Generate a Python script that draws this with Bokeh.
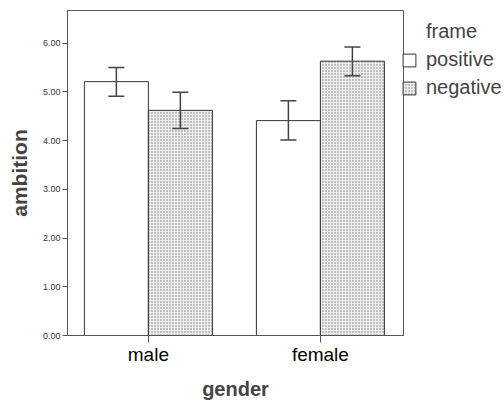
from bokeh.plotting import figure
from bokeh.models import (ColumnDataSource, Range1d, FixedTicker, Whisker, TeeHead,
                          Legend, LegendItem)
from bokeh.transform import dodge
from bokeh.embed import file_html
from bokeh.resources import INLINE

# ---- data ----
genders = ["male", "female"]
frames = ["positive", "negative"]
legend_title = "frame"
positive_mean = [5.21, 4.41]
positive_lo = [4.91, 4.01]
positive_hi = [5.50, 4.82]
negative_mean = [4.62, 5.63]
negative_lo = [4.25, 5.33]
negative_hi = [4.99, 5.92]
y_ticks = [0, 1, 2, 3, 4, 5, 6]

FONT = "Liberation Sans"
BW = 0.372
OFF = BW / 2

xs = list(range(len(genders)))
src_pos = ColumnDataSource(dict(x=xs, top=positive_mean, lo=positive_lo, hi=positive_hi))
src_neg = ColumnDataSource(dict(x=xs, top=negative_mean, lo=negative_lo, hi=negative_hi))

p = figure(frame_width=336, frame_height=325, output_backend="svg", toolbar_location=None,
           x_range=Range1d(-0.47, len(genders) - 1 + 0.483), y_range=Range1d(0, 6.67),
           min_border_left=67, min_border_top=10, min_border_bottom=68, min_border_right=0)

r_pos = p.vbar(x=dodge("x", -OFF), top="top", width=BW, bottom=0, source=src_pos,
               fill_color="white", line_color="#333333", line_width=1)
r_neg = p.vbar(x=dodge("x", OFF), top="top", width=BW, bottom=0, source=src_neg,
               fill_color="#eeeeee", line_color="#333333", line_width=1,
               hatch_pattern="dot", hatch_scale=3, hatch_weight=1, hatch_color="#7a7a7a")
# invisible renderer used only to place the legend title row
r_title = p.scatter(x=[], y=[], fill_alpha=0, line_alpha=0)

for src, off in ((src_pos, -OFF), (src_neg, OFF)):
    w = Whisker(base=dodge("x", off), upper="hi", lower="lo", source=src, level="overlay",
                line_color="#444444", line_width=1.5,
                upper_head=TeeHead(size=16, line_color="#444444", line_width=1.5),
                lower_head=TeeHead(size=16, line_color="#444444", line_width=1.5))
    p.add_layout(w)

p.xgrid.visible = False
p.ygrid.visible = False
p.outline_line_color = "#555555"
p.outline_line_width = 1
p.background_fill_color = "white"
p.border_fill_color = "white"

# x axis
p.xaxis.ticker = FixedTicker(ticks=xs)
p.xaxis.major_label_overrides = {i: g for i, g in enumerate(genders)}
p.xaxis.minor_tick_line_color = None
p.xaxis.major_tick_in = 0
p.xaxis.major_tick_out = 7
p.xaxis.axis_line_color = "#555555"
p.xaxis.major_tick_line_color = "#555555"
p.xaxis.major_label_text_font = FONT
p.xaxis.major_label_text_font_size = "19px"
p.xaxis.major_label_text_color = "black"
p.xaxis.major_label_standoff = 1
p.xaxis.axis_label = "gender"
p.xaxis.axis_label_text_font = FONT
p.xaxis.axis_label_text_font_size = "20px"
p.xaxis.axis_label_text_font_style = "bold"
p.xaxis.axis_label_standoff = 10

# y axis
p.yaxis.ticker = FixedTicker(ticks=y_ticks)
p.yaxis.major_label_overrides = {t: f"{t:.2f}" for t in y_ticks}
p.yaxis.minor_tick_line_color = None
p.yaxis.major_tick_in = 0
p.yaxis.major_tick_out = 5
p.yaxis.axis_line_color = "#555555"
p.yaxis.major_tick_line_color = "#555555"
p.yaxis.major_label_text_font = FONT
p.yaxis.major_label_text_font_size = "9px"
p.yaxis.major_label_text_color = "#333333"
p.yaxis.major_label_standoff = 2
p.yaxis.axis_label = "ambition"
p.yaxis.axis_label_text_font = FONT
p.yaxis.axis_label_text_font_size = "21px"
p.yaxis.axis_label_text_font_style = "bold"
p.yaxis.axis_label_standoff = 9

legend = Legend(items=[LegendItem(label=legend_title, renderers=[r_title]),
                       LegendItem(label=frames[0], renderers=[r_pos]),
                       LegendItem(label=frames[1], renderers=[r_neg])],
                location=(-2, 236), margin=0, padding=0,
                border_line_color=None, background_fill_alpha=0,
                glyph_width=16, glyph_height=16, label_standoff=9,
                label_height=20, spacing=5,
                label_text_font=FONT, label_text_font_size="20px")
p.add_layout(legend, "right")

open("out.html", "w").write(file_html(p, INLINE))
